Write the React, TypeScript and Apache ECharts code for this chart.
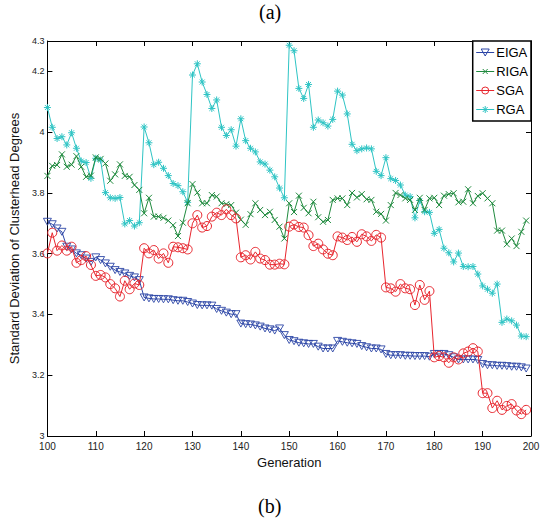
import React, { useEffect, useRef } from "react";
import * as echarts from "echarts";

const generations: number[] = Array.from({ length: 100 }, (_, i) => 100 + i);

const EIGA: number[] = [
  3.705, 3.697, 3.683, 3.672, 3.623, 3.614, 3.601, 3.595, 3.584, 3.573,
  3.588, 3.579, 3.568, 3.557, 3.546, 3.540, 3.535, 3.527, 3.522, 3.513,
  3.456, 3.453, 3.451, 3.451, 3.450, 3.450, 3.447, 3.445, 3.445, 3.441,
  3.436, 3.431, 3.430, 3.430, 3.429, 3.418, 3.412, 3.406, 3.401, 3.401,
  3.370, 3.368, 3.367, 3.364, 3.360, 3.354, 3.351, 3.347, 3.354, 3.332,
  3.316, 3.312, 3.307, 3.305, 3.303, 3.303, 3.294, 3.288, 3.288, 3.288,
  3.313, 3.310, 3.307, 3.305, 3.303, 3.296, 3.292, 3.288, 3.288, 3.285,
  3.270, 3.266, 3.266, 3.266, 3.264, 3.264, 3.263, 3.263, 3.263, 3.261,
  3.270, 3.270, 3.270, 3.266, 3.259, 3.252, 3.252, 3.252, 3.252, 3.250,
  3.237, 3.233, 3.233, 3.231, 3.231, 3.230, 3.228, 3.228, 3.226, 3.222,
];

const RIGA: number[] = [
  3.856, 3.889, 3.892, 3.927, 3.886, 3.893, 3.921, 3.886, 3.853, 3.857,
  3.917, 3.912, 3.897, 3.840, 3.861, 3.894, 3.856, 3.853, 3.826, 3.810,
  3.733, 3.784, 3.722, 3.722, 3.718, 3.709, 3.694, 3.658, 3.702, 3.766,
  3.829, 3.801, 3.766, 3.766, 3.793, 3.788, 3.766, 3.763, 3.760, 3.735,
  3.712, 3.695, 3.730, 3.766, 3.744, 3.727, 3.738, 3.711, 3.689, 3.650,
  3.766, 3.737, 3.791, 3.751, 3.733, 3.771, 3.720, 3.705, 3.711, 3.777,
  3.782, 3.782, 3.760, 3.800, 3.785, 3.796, 3.779, 3.777, 3.738, 3.731,
  3.709, 3.760, 3.800, 3.793, 3.782, 3.777, 3.744, 3.784, 3.744, 3.782,
  3.784, 3.760, 3.791, 3.796, 3.799, 3.769, 3.771, 3.812, 3.766, 3.790,
  3.799, 3.782, 3.766, 3.676, 3.676, 3.631, 3.650, 3.625, 3.672, 3.709,
];

const SGA: number[] = [
  3.601, 3.669, 3.610, 3.627, 3.610, 3.623, 3.570, 3.579, 3.592, 3.563,
  3.527, 3.530, 3.522, 3.500, 3.486, 3.459, 3.511, 3.483, 3.502, 3.497,
  3.618, 3.601, 3.612, 3.584, 3.601, 3.570, 3.623, 3.621, 3.618, 3.614,
  3.700, 3.727, 3.686, 3.691, 3.722, 3.735, 3.727, 3.746, 3.727, 3.716,
  3.588, 3.595, 3.581, 3.606, 3.584, 3.579, 3.564, 3.564, 3.567, 3.565,
  3.689, 3.696, 3.688, 3.686, 3.661, 3.625, 3.633, 3.614, 3.600, 3.595,
  3.657, 3.653, 3.645, 3.655, 3.639, 3.664, 3.657, 3.642, 3.662, 3.653,
  3.489, 3.486, 3.475, 3.500, 3.486, 3.483, 3.431, 3.497, 3.448, 3.477,
  3.259, 3.263, 3.259, 3.241, 3.259, 3.252, 3.272, 3.278, 3.289, 3.278,
  3.141, 3.141, 3.092, 3.116, 3.086, 3.099, 3.105, 3.084, 3.072, 3.086,
];

const RGA: number[] = [
  4.081, 4.016, 3.979, 3.985, 3.958, 3.998, 3.947, 3.905, 3.900, 3.848,
  3.914, 3.908, 3.801, 3.784, 3.782, 3.785, 3.698, 3.709, 3.691, 3.702,
  4.017, 3.965, 3.893, 3.901, 3.881, 3.857, 3.831, 3.824, 3.804, 3.769,
  4.188, 4.225, 4.165, 4.124, 4.078, 4.106, 4.016, 3.989, 4.008, 3.954,
  4.044, 3.972, 3.947, 3.935, 3.902, 3.895, 3.875, 3.853, 3.816, 3.784,
  4.286, 4.268, 4.144, 4.111, 4.157, 4.016, 4.040, 4.031, 4.020, 4.042,
  4.135, 4.122, 4.060, 3.960, 3.939, 3.945, 3.948, 3.945, 3.871, 3.857,
  3.916, 3.847, 3.841, 3.826, 3.793, 3.788, 3.718, 3.775, 3.738, 3.736,
  3.667, 3.680, 3.618, 3.603, 3.573, 3.602, 3.558, 3.557, 3.558, 3.533,
  3.494, 3.483, 3.470, 3.500, 3.374, 3.385, 3.379, 3.365, 3.329, 3.327,
];

const SERIES_NAMES = ["EIGA", "RIGA", "SGA", "RGA"];
const TITLE_TOP = "(a)";
const TITLE_BOTTOM = "(b)";
const X_NAME = "Generation";
const Y_NAME = "Standard Deviation of Clusterhead Degrees";

const FONT = "'Liberation Sans', Arial, Helvetica, sans-serif";
const SERIF = "'Liberation Serif', 'Times New Roman', serif";

const X_MARK = "path://M0,0L10,10M10,0L0,10";
const STAR_MARK = "path://M5,0L5,10M0,5L10,5M1.5,1.5L8.5,8.5M8.5,1.5L1.5,8.5";

const LEGEND_ICONS = [
  "path://M0,4L18,4M5,0.5L13,0.5L9,7.5Z",
  "path://M0,4L18,4M6.5,1.5L11.5,6.5M11.5,1.5L6.5,6.5",
  "path://M0,4L18,4M12.5,4A3.5,3.5 0 1 1 5.5,4A3.5,3.5 0 1 1 12.5,4",
  "path://M0,4L18,4M9,0.5L9,7.5M5.5,4L12.5,4M6.5,1.5L11.5,6.5M11.5,1.5L6.5,6.5",
];

function pairs(vals: number[]) {
  return generations.map((g, i) => [g, vals[i]]);
}

export default function App() {
  const ref = useRef<HTMLDivElement>(null);
  useEffect(() => {
    if (!ref.current) return;
    const chart = echarts.init(ref.current, undefined, { renderer: "svg" });
    const axisLine = { show: true, lineStyle: { color: "#000", width: 1 } };
    const tick = { show: true, inside: true, length: 5, lineStyle: { color: "#000", width: 1 } };
    const colors = ["#2b45a6", "#1f8a3e", "#e8262e", "#2ec4c4"];
    const hollow = "rgba(255,255,255,0)";
    const option: any = {
      animation: false,
      backgroundColor: "#fff",
      textStyle: { fontFamily: FONT },
      grid: { left: 43, right: 20, top: 41, bottom: 91 },
      graphic: [
        {
          type: "text",
          left: 259,
          top: 2,
          style: { text: TITLE_TOP, font: `20px ${SERIF}`, fill: "#000" },
        },
        {
          type: "text",
          left: 258,
          top: 496,
          style: { text: TITLE_BOTTOM, font: `20px ${SERIF}`, fill: "#000" },
        },
      ],
      legend: {
        orient: "vertical",
        right: 20,
        top: 41,
        backgroundColor: "#fff",
        borderColor: "#000",
        borderWidth: 1.5,
        borderRadius: 0,
        padding: [5, 3, 5, 3],
        itemGap: 6,
        itemWidth: 18,
        itemHeight: 8,
        symbolKeepAspect: true,
        textStyle: { fontSize: 13, fontFamily: FONT, color: "#000", padding: [0, 0, 0, -3] },
        data: SERIES_NAMES.map((name, i) => ({
          name,
          icon: LEGEND_ICONS[i],
          itemStyle: { color: hollow, borderColor: colors[i], borderWidth: 1 },
        })),
      },
      xAxis: [
        {
          type: "value",
          min: 100,
          max: 200,
          interval: 10,
          position: "bottom",
          axisLine,
          axisTick: tick,
          splitLine: { show: false },
          axisLabel: { fontSize: 10, color: "#222", margin: 5, fontFamily: FONT },
          name: X_NAME,
          nameLocation: "middle",
          nameGap: 19,
          nameTextStyle: { fontSize: 13, color: "#111", fontFamily: FONT },
        },
        {
          type: "value",
          min: 100,
          max: 200,
          interval: 10,
          position: "top",
          axisLine,
          axisTick: tick,
          splitLine: { show: false },
          axisLabel: { show: false },
        },
      ],
      yAxis: [
        {
          type: "value",
          min: 3,
          max: 4.3,
          interval: 0.2,
          position: "left",
          axisLine,
          axisTick: tick,
          splitLine: { show: false },
          axisLabel: { fontSize: 9, color: "#222", margin: 3, fontFamily: FONT },
          name: Y_NAME,
          nameLocation: "middle",
          nameGap: 22,
          nameTextStyle: { fontSize: 13, color: "#111", fontFamily: FONT },
        },
        {
          type: "value",
          min: 3,
          max: 4.3,
          interval: 0.2,
          position: "right",
          axisLine,
          axisTick: tick,
          splitLine: { show: false },
          axisLabel: { show: false },
        },
      ],
      series: [
        {
          name: SERIES_NAMES[0],
          type: "line",
          data: pairs(EIGA),
          symbol: "triangle",
          symbolRotate: 180,
          symbolSize: [8, 7],
          lineStyle: { width: 1, color: colors[0] },
          itemStyle: { color: hollow, borderColor: colors[0], borderWidth: 0.9 },
          z: 4,
        },
        {
          name: SERIES_NAMES[1],
          type: "line",
          data: pairs(RIGA),
          symbol: X_MARK,
          symbolSize: 6,
          lineStyle: { width: 1, color: colors[1] },
          itemStyle: { color: colors[1], borderColor: colors[1], borderWidth: 1 },
          z: 3,
        },
        {
          name: SERIES_NAMES[2],
          type: "line",
          data: pairs(SGA),
          symbol: "circle",
          symbolSize: 9,
          lineStyle: { width: 1, color: colors[2] },
          itemStyle: { color: hollow, borderColor: colors[2], borderWidth: 1 },
          z: 5,
        },
        {
          name: SERIES_NAMES[3],
          type: "line",
          data: pairs(RGA),
          symbol: STAR_MARK,
          symbolSize: 7,
          lineStyle: { width: 1, color: colors[3] },
          itemStyle: { color: colors[3], borderColor: colors[3], borderWidth: 1 },
          z: 2,
        },
      ],
    };
    chart.setOption(option);
    return () => chart.dispose();
  }, []);
  return (
    <div
      ref={ref}
      style={{ position: "fixed", left: 0, top: 0, width: 551, height: 527, background: "#fff" }}
    />
  );
}
